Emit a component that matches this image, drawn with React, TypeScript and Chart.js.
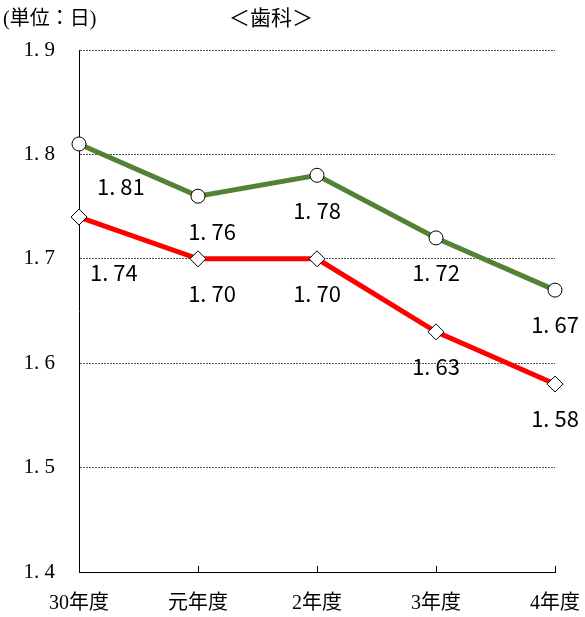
import React, { useEffect, useRef } from "react";
import { Chart, registerables } from "chart.js";

Chart.register(...registerables);

const categories = ["30年度", "元年度", "2年度", "3年度", "4年度"];
const seriesGreen = [1.81, 1.76, 1.78, 1.72, 1.67];
const seriesRed = [1.74, 1.7, 1.7, 1.63, 1.58];
const yTicks = [1.4, 1.5, 1.6, 1.7, 1.8, 1.9];
const titleText = "＜歯科＞";
const unitText = "(単位：日)";

const fmt = (v: number) => v.toFixed(2).replace(".", ". ");

const overlayPlugin = {
  id: "overlay",
  afterDraw(chart: any) {
    const ctx = chart.ctx;
    const area = chart.chartArea;
    const xs = chart.scales.x;
    ctx.save();
    ctx.fillStyle = "#000";
    ctx.textBaseline = "middle";
    ctx.font = "21px 'Noto Sans CJK JP'";
    ctx.textAlign = "center";
    ctx.fillText(titleText, 271, 17);
    ctx.font = "20px 'Liberation Serif', 'Noto Sans CJK JP'";
    ctx.textAlign = "left";
    ctx.fillText(unitText, 3, 20);
    ctx.strokeStyle = "#000";
    ctx.lineWidth = 1;
    for (let i = 1; i < categories.length; i++) {
      const x = Math.round(xs.getPixelForValue(i)) + 0.5;
      ctx.beginPath();
      ctx.moveTo(x, area.bottom);
      ctx.lineTo(x, area.bottom - 6);
      ctx.stroke();
    }
    ctx.font = "22px 'Noto Sans CJK JP'";
    ctx.fillStyle = "#000";
    chart.data.datasets.forEach((ds: any, di: number) => {
      const meta = chart.getDatasetMeta(di);
      meta.data.forEach((pt: any, i: number) => {
        const txt = fmt(ds.data[i]);
        if (i === 0) {
          ctx.textAlign = "left";
          ctx.fillText(txt, pt.x + (di === 0 ? 18 : 11), pt.y + (di === 0 ? 43 : 56));
        } else {
          ctx.textAlign = "center";
          ctx.fillText(txt, pt.x + (i === 1 ? 14 : 0), pt.y + 35);
        }
      });
    });
    ctx.restore();
  },
};

export default function App() {
  const ref = useRef<HTMLCanvasElement>(null);
  useEffect(() => {
    if (!ref.current) return;
    const chart = new Chart(ref.current, {
      type: "line",
      data: {
        labels: categories,
        datasets: [
          {
            data: seriesGreen,
            borderColor: "#548235",
            borderWidth: 5,
            pointStyle: "circle",
            pointRadius: 7,
            pointBackgroundColor: "#fff",
            pointBorderColor: "#000",
            pointBorderWidth: 1,
            tension: 0,
          },
          {
            data: seriesRed,
            borderColor: "#ff0000",
            borderWidth: 5,
            pointStyle: "rectRot",
            pointRadius: 8,
            pointBackgroundColor: "#fff",
            pointBorderColor: "#000",
            pointBorderWidth: 1,
            tension: 0,
          },
        ],
      },
      options: {
        responsive: false,
        animation: false,
        layout: { padding: { top: 50, right: 30, left: 0, bottom: 0 } },
        plugins: { legend: { display: false }, tooltip: { enabled: false } },
        scales: {
          x: {
            offset: false,
            grid: { display: false, drawTicks: false },
            border: { display: true, color: "#000", width: 1 },
            ticks: {
              color: "#000",
              padding: 20,
              maxRotation: 0,
              font: { family: "'Liberation Serif', 'Noto Sans CJK JP'", size: 20 },
            },
            afterFit: (s: any) => {
              s.height = 45;
              s.paddingLeft = 0;
              s.paddingRight = 0;
            },
          },
          y: {
            min: 1.4,
            max: 1.9,
            afterBuildTicks: (s: any) => {
              s.ticks = yTicks.map((v) => ({ value: v }));
            },
            grid: { display: true, color: "#555", drawTicks: false, lineWidth: 1 },
            border: { display: true, color: "#000", width: 1, dash: [2, 1] },
            ticks: {
              color: "#000",
              padding: 24,
              font: { family: "'Liberation Serif', 'Noto Sans CJK JP'", size: 21 },
              callback: (v: any) => Number(v).toFixed(1).replace(".", ". "),
            },
            afterFit: (s: any) => {
              s.width = 79;
              s.paddingTop = 0;
              s.paddingBottom = 0;
            },
          },
        },
      },
      plugins: [overlayPlugin],
    });
    return () => chart.destroy();
  }, []);
  return (
    <div style={{ position: "fixed", left: 0, top: 0, width: 585, height: 617, background: "#fff" }}>
      <canvas ref={ref} width={585} height={617} style={{ display: "block" }} />
    </div>
  );
}
